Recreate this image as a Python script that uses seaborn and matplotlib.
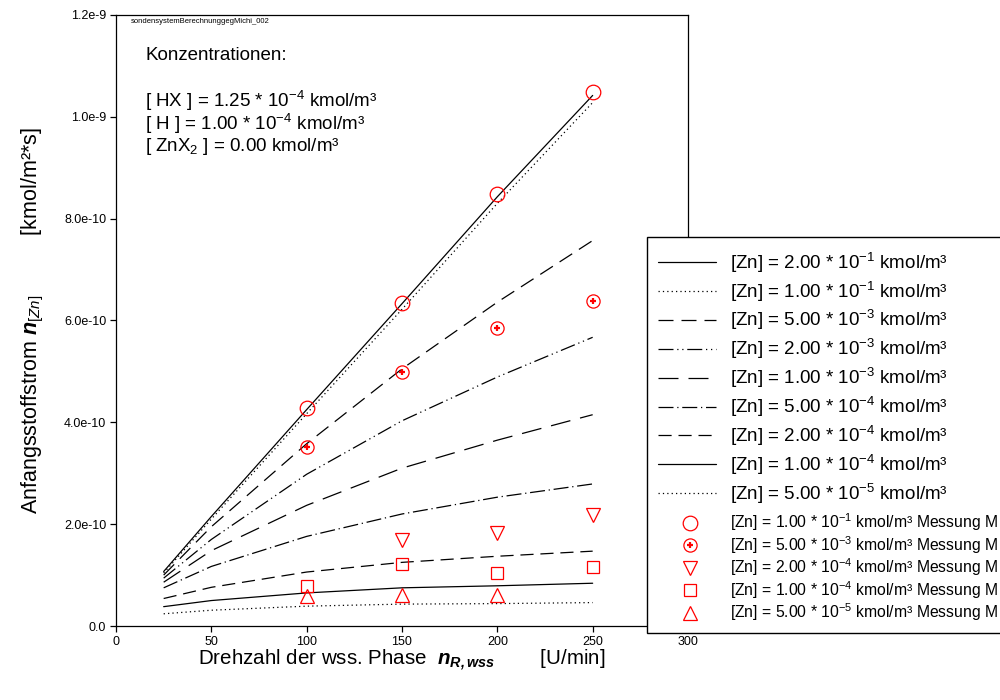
import matplotlib
matplotlib.use("Agg")
import matplotlib.pyplot as plt
import numpy as np
import pandas as pd
import seaborn as sns
from matplotlib.lines import Line2D
from matplotlib.patches import Rectangle
from matplotlib.legend_handler import HandlerTuple

sns.set_theme(style="ticks")
plt.rcParams["font.family"] = ["Liberation Sans", "DejaVu Sans"]
plt.rcParams["mathtext.fontset"] = "custom"
plt.rcParams["mathtext.rm"] = "Liberation Sans"
plt.rcParams["mathtext.it"] = "Liberation Sans:italic"
plt.rcParams["mathtext.bf"] = "Liberation Sans:italic:bold"
plt.rcParams["text.color"] = "black"
plt.rcParams["axes.labelcolor"] = "black"
plt.rcParams["xtick.color"] = "black"
plt.rcParams["ytick.color"] = "black"
plt.rcParams["axes.edgecolor"] = "black"

# ---- model curves: initial Zn flux vs. stirrer speed (units of 1e-10 kmol/m²s)
drehzahl_modell = [25, 50, 100, 150, 200, 250]
zn_konz = ["2.00 * 10$^{-1}$", "1.00 * 10$^{-1}$", "5.00 * 10$^{-3}$",
           "2.00 * 10$^{-3}$", "1.00 * 10$^{-3}$", "5.00 * 10$^{-4}$",
           "2.00 * 10$^{-4}$", "1.00 * 10$^{-4}$", "5.00 * 10$^{-5}$"]
modell_2e_1 = [1.07, 2.15, 4.25, 6.33, 8.43, 10.42]
modell_1e_1 = [1.04, 2.10, 4.17, 6.22, 8.30, 10.28]
modell_5e_3 = [1.00, 1.95, 3.58, 5.05, 6.36, 7.57]
modell_2e_3 = [0.94, 1.70, 2.98, 4.03, 4.89, 5.67]
modell_1e_3 = [0.86, 1.48, 2.37, 3.10, 3.65, 4.15]
modell_5e_4 = [0.75, 1.17, 1.76, 2.20, 2.53, 2.79]
modell_2e_4 = [0.54, 0.76, 1.06, 1.25, 1.37, 1.47]
modell_1e_4 = [0.38, 0.50, 0.65, 0.75, 0.79, 0.84]
modell_5e_5 = [0.24, 0.31, 0.39, 0.43, 0.44, 0.46]
modell_werte = [modell_2e_1, modell_1e_1, modell_5e_3, modell_2e_3, modell_1e_3,
                modell_5e_4, modell_2e_4, modell_1e_4, modell_5e_5]

# ---- measurements (units of 1e-10 kmol/m²s)
mess_x_1e_1 = [100, 150, 200, 250]
mess_y_1e_1 = [4.28, 6.35, 8.49, 10.49]
mess_x_5e_3 = [100, 150, 200, 250]
mess_y_5e_3 = [3.52, 4.99, 5.86, 6.39]
mess_x_2e_4 = [150, 200, 250]
mess_y_2e_4 = [1.68, 1.82, 2.18]
mess_x_1e_4 = [100, 150, 200, 250]
mess_y_1e_4 = [0.79, 1.21, 1.05, 1.15]
mess_x_5e_5 = [100, 150, 200]
mess_y_5e_5 = [0.58, 0.60, 0.61]
mess_konz = ["1.00 * 10$^{-1}$", "5.00 * 10$^{-3}$", "2.00 * 10$^{-4}$",
             "1.00 * 10$^{-4}$", "5.00 * 10$^{-5}$"]

x_ticks = [0, 50, 100, 150, 200, 250, 300]
y_ticks = [0.0, 2e-10, 4e-10, 6e-10, 8e-10, 1.0e-9, 1.2e-9]
y_ticklabels = ["0.0", "2.0e-10", "4.0e-10", "6.0e-10", "8.0e-10", "1.0e-9", "1.2e-9"]

skala = 1e-10

# line dash patterns per series
dash_muster = ["", (1, 2.5), (12, 6.4), (12, 3, 1, 3, 1, 3), (16, 8),
               (12, 3, 1, 3), (10.5, 5.5), "", (1, 2.5)]

modell_labels = ["[Zn] = " + k + " kmol/m³" for k in zn_konz]

rows = []
for lab, werte in zip(modell_labels, modell_werte):
    for xv, yv in zip(drehzahl_modell, werte):
        rows.append({"drehzahl": xv, "strom": yv * skala, "serie": lab})
df_modell = pd.DataFrame(rows)

fig = plt.figure(figsize=(10, 7), dpi=100)
ax = fig.add_axes([0.116, 0.1057, 0.572, 0.8729])

LW = 0.9
sns.lineplot(data=df_modell, x="drehzahl", y="strom", style="serie",
             style_order=modell_labels,
             dashes=dict(zip(modell_labels, dash_muster)),
             color="black", linewidth=LW, legend=False, ax=ax,
             estimator=None, sort=False)

rot = "#ff0000"
mk = dict(linestyle="none", markerfacecolor="none", markeredgecolor=rot,
          markeredgewidth=0.9, zorder=3)
ax.plot(mess_x_1e_1, np.array(mess_y_1e_1) * skala, marker="o", markersize=10.5, **mk)
ax.plot(mess_x_5e_3, np.array(mess_y_5e_3) * skala, marker="o", markersize=9.5, **mk)
ax.plot(mess_x_5e_3, np.array(mess_y_5e_3) * skala, linestyle="none", marker="+",
        markersize=4, markeredgewidth=1.6, color=rot, zorder=3)
ax.plot(mess_x_2e_4, np.array(mess_y_2e_4) * skala, marker="v", markersize=10, **mk)
ax.plot(mess_x_1e_4, np.array(mess_y_1e_4) * skala, marker="s", markersize=9, **mk)
ax.plot(mess_x_5e_5, np.array(mess_y_5e_5) * skala, marker="^", markersize=10, **mk)

ax.set_xlim(0, 300)
ax.set_ylim(0, 1.2e-9)
ax.set_xticks(x_ticks)
ax.set_xticklabels([str(t) for t in x_ticks])
ax.set_yticks(y_ticks)
ax.set_yticklabels(y_ticklabels)
ax.tick_params(direction="out", length=4, width=0.9, labelsize=9, pad=3)
for s in ax.spines.values():
    s.set_visible(True)
    s.set_linewidth(0.9)
    s.set_color("black")

ax.set_xlabel("Drehzahl der wss. Phase  $\\mathbf{n}_{\\mathbf{R,wss}}$"
              "        [U/min]", fontsize=14.8)
ax.xaxis.set_label_coords(0.5, -0.036)
ax.set_ylabel("Anfangsstoffstrom $\\mathbf{n}_{\\mathit{[Zn]}}$"
              "          [kmol/m²*s]", fontsize=15.5)
ax.yaxis.set_label_coords(-0.122, 0.5)

ax.text(0.026, 0.990, "sondensystemBerechnunggegMichi_002", transform=ax.transAxes,
        fontsize=5.5, ha="left", va="center")
ax.text(0.0507, 0.9345, "Konzentrationen:", transform=ax.transAxes,
        fontsize=13.5, ha="left", va="center")
ax.text(0.0507, 0.859, "[ HX ] = 1.25 * 10$^{-4}$ kmol/m³", transform=ax.transAxes,
        fontsize=13.5, ha="left", va="center")
ax.text(0.0507, 0.8216, "[ H ] = 1.00 * 10$^{-4}$ kmol/m³", transform=ax.transAxes,
        fontsize=13.5, ha="left", va="center")
ax.text(0.0507, 0.784, "[ ZnX$_2$ ] = 0.00 kmol/m³", transform=ax.transAxes,
        fontsize=13.5, ha="left", va="center")

# legend frame spanning both legend blocks
rahmen = Rectangle((0.6465, 0.0961), 0.5, 0.5658, transform=fig.transFigure,
                   facecolor="white", edgecolor="black", linewidth=1.0, zorder=4)
fig.add_artist(rahmen)

linien_handles = []
for lab, d in zip(modell_labels, dash_muster):
    h = Line2D([], [], color="black", linewidth=LW)
    if d != "":
        h.set_dashes(d)
    linien_handles.append(h)

leg1 = fig.legend(handles=linien_handles, labels=modell_labels, loc="upper left",
                  bbox_to_anchor=(0.658, 0.642), frameon=False, fontsize=13.5,
                  handlelength=3.09, handletextpad=0.75, labelspacing=0.255,
                  borderpad=0, borderaxespad=0)
leg1.set_zorder(5)

mk_leg = dict(linestyle="none", markerfacecolor="none", markeredgecolor=rot,
              markeredgewidth=0.9)
h_kreis = Line2D([], [], marker="o", markersize=10.5, **mk_leg)
h_kp = (Line2D([], [], marker="o", markersize=9.5, **mk_leg),
        Line2D([], [], marker="+", markersize=4, markeredgewidth=1.6,
               color=rot, linestyle="none"))
h_v = Line2D([], [], marker="v", markersize=10, **mk_leg)
h_s = Line2D([], [], marker="s", markersize=9, **mk_leg)
h_t = Line2D([], [], marker="^", markersize=10, **mk_leg)
mess_labels = ["[Zn] = " + k + " kmol/m³ Messung M" for k in mess_konz]

leg2 = fig.legend(handles=[h_kreis, h_kp, h_v, h_s, h_t], labels=mess_labels,
                  loc="upper left", bbox_to_anchor=(0.658, 0.269), frameon=False,
                  fontsize=11.3, handlelength=4.1, handletextpad=0.5,
                  labelspacing=0.05, borderpad=0, borderaxespad=0,
                  handler_map={tuple: HandlerTuple(ndivide=1, pad=0)})
leg2.set_zorder(5)

fig.savefig("out.png", dpi=100)
